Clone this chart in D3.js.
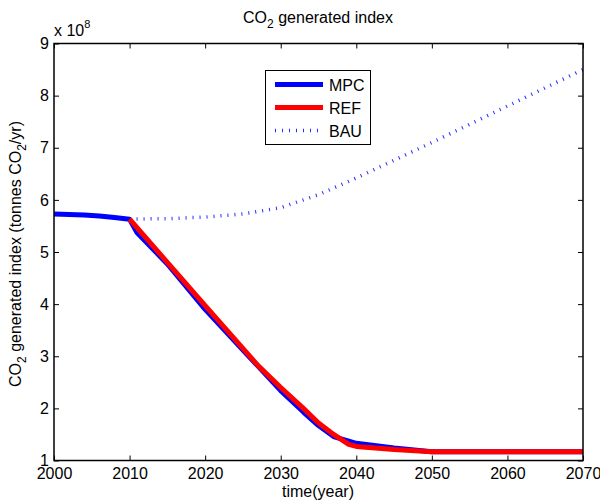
<!DOCTYPE html>
<html>
<head>
<meta charset="utf-8">
<script src="https://cdn.jsdelivr.net/npm/d3@7"></script>
<style>
  body { margin: 0; background: #fff; }
  svg text { font-family: "Liberation Sans", Arial, sans-serif; fill: #000; }
</style>
</head>
<body>
<svg id="chart" width="600" height="503"></svg>
<script>
// Emission trajectories, values in units of 1e8 tonnes CO2 per year
const mpcYears = [2000, 2002, 2004, 2006, 2008, 2010, 2011, 2012, 2015, 2020, 2025, 2030, 2033, 2035, 2037, 2040, 2045, 2050, 2060, 2070];
const mpcValues = [5.73, 5.72, 5.71, 5.69, 5.66, 5.63, 5.37, 5.22, 4.77, 3.90, 3.12, 2.34, 1.93, 1.67, 1.46, 1.33, 1.24, 1.17, 1.17, 1.17];

const refYears = [2010, 2020, 2027, 2030, 2033, 2035, 2037, 2039, 2040, 2045, 2050, 2060, 2070];
const refValues = [5.63, 3.97, 2.82, 2.40, 2.00, 1.72, 1.50, 1.31, 1.27, 1.21, 1.17, 1.17, 1.17];

const bauYears = [2010, 2015, 2020, 2025, 2030, 2035, 2040, 2045, 2050, 2055, 2060, 2065, 2070];
const bauValues = [5.63, 5.64, 5.67, 5.73, 5.85, 6.10, 6.42, 6.76, 7.10, 7.45, 7.80, 8.15, 8.50];

const xTicks = [2000, 2010, 2020, 2030, 2040, 2050, 2060, 2070];
const yTicks = [1, 2, 3, 4, 5, 6, 7, 8, 9];

const seriesNames = ["MPC", "REF", "BAU"];

const svg = d3.select("#chart");
const m = { left: 54, right: 583, top: 43.5, bottom: 460.5 };
const fs = 16;

const x = d3.scaleLinear().domain([2000, 2070]).range([m.left, m.right]);
const y = d3.scaleLinear().domain([1, 9]).range([m.bottom, m.top]);

// Lines
const line = d3.line().x(d => x(d[0])).y(d => y(d[1]));
const zip = (a, b) => a.map((v, i) => [v, b[i]]);

const plot = svg.append("g");
plot.append("path").datum(zip(bauYears, bauValues)).attr("d", line)
  .attr("fill", "none").attr("stroke", "#2a2aff").attr("stroke-width", 3.5)
  .attr("stroke-dasharray", "1,6");
plot.append("path").datum(zip(mpcYears, mpcValues)).attr("d", line)
  .attr("fill", "none").attr("stroke", "#0000ff").attr("stroke-width", 5)
  .attr("stroke-linejoin", "round");
plot.append("path").datum(zip(refYears, refValues)).attr("d", line)
  .attr("fill", "none").attr("stroke", "#ff0000").attr("stroke-width", 5)
  .attr("stroke-linejoin", "round");

// Axes: box with inward ticks on all four sides
const tickLen = 5;
const ax = svg.append("g");
ax.append("g").attr("transform", `translate(0,${m.bottom})`)
  .call(d3.axisBottom(x).tickValues(xTicks).tickFormat(d3.format("d")).tickSizeInner(-tickLen).tickSizeOuter(0).tickPadding(7));
ax.append("g").attr("transform", `translate(0,${m.top})`)
  .call(d3.axisTop(x).tickValues(xTicks).tickFormat("").tickSizeInner(-tickLen).tickSizeOuter(0));
ax.append("g").attr("transform", `translate(${m.left},0)`)
  .call(d3.axisLeft(y).tickValues(yTicks).tickFormat(d3.format("d")).tickSizeInner(-tickLen).tickSizeOuter(0).tickPadding(5));
ax.append("g").attr("transform", `translate(${m.right},0)`)
  .call(d3.axisRight(y).tickValues(yTicks).tickFormat("").tickSizeInner(-tickLen).tickSizeOuter(0));
ax.selectAll(".domain").remove();
ax.selectAll(".tick line").attr("stroke", "#000").attr("stroke-width", 1);
ax.selectAll(".tick text").attr("font-size", fs);
ax.append("rect").attr("x", m.left).attr("y", m.top)
  .attr("width", m.right - m.left).attr("height", m.bottom - m.top)
  .attr("fill", "none").attr("stroke", "#000").attr("stroke-width", 1.5);

// Exponent label
const ex = svg.append("text").attr("x", 54).attr("y", 36).attr("font-size", fs);
ex.append("tspan").text("x 10");
ex.append("tspan").attr("font-size", 11).attr("dy", -8).text("8");

// Title
const title = svg.append("text").attr("x", 318).attr("y", 23).attr("text-anchor", "middle").attr("font-size", fs);
title.append("tspan").text("CO");
title.append("tspan").attr("font-size", 12).attr("dy", 5).text("2");
title.append("tspan").attr("dy", -5).text(" generated index");

// X label
svg.append("text").attr("x", 318).attr("y", 497).attr("text-anchor", "middle")
  .attr("font-size", fs).text("time(year)");

// Y label
const yl = svg.append("text").attr("transform", "translate(21,254) rotate(-90)")
  .attr("text-anchor", "middle").attr("font-size", fs);
yl.append("tspan").text("CO");
yl.append("tspan").attr("font-size", 12).attr("dy", 5).text("2");
yl.append("tspan").attr("dy", -5).text(" generated index (tonnes CO");
yl.append("tspan").attr("font-size", 12).attr("dy", 5).text("2");
yl.append("tspan").attr("dy", -5).text("/yr)");

// Legend
const lg = svg.append("g");
lg.append("rect").attr("x", 265.5).attr("y", 70.5).attr("width", 105).attr("height", 74)
  .attr("fill", "#fff").attr("stroke", "#000").attr("stroke-width", 1);
const legendStyles = [
  { color: "#0000ff", width: 5, dash: null },
  { color: "#ff0000", width: 5, dash: null },
  { color: "#2a2aff", width: 3.5, dash: "1,6" }
];
seriesNames.forEach((name, i) => {
  const ly = 84.5 + i * 23;
  const s = legendStyles[i];
  const l = lg.append("line").attr("x1", 275).attr("x2", 323).attr("y1", ly).attr("y2", ly)
    .attr("stroke", s.color).attr("stroke-width", s.width);
  if (s.dash) l.attr("stroke-dasharray", s.dash);
  lg.append("text").attr("x", 329).attr("y", ly + 6).attr("font-size", fs).text(name);
});
</script>
</body>
</html>
